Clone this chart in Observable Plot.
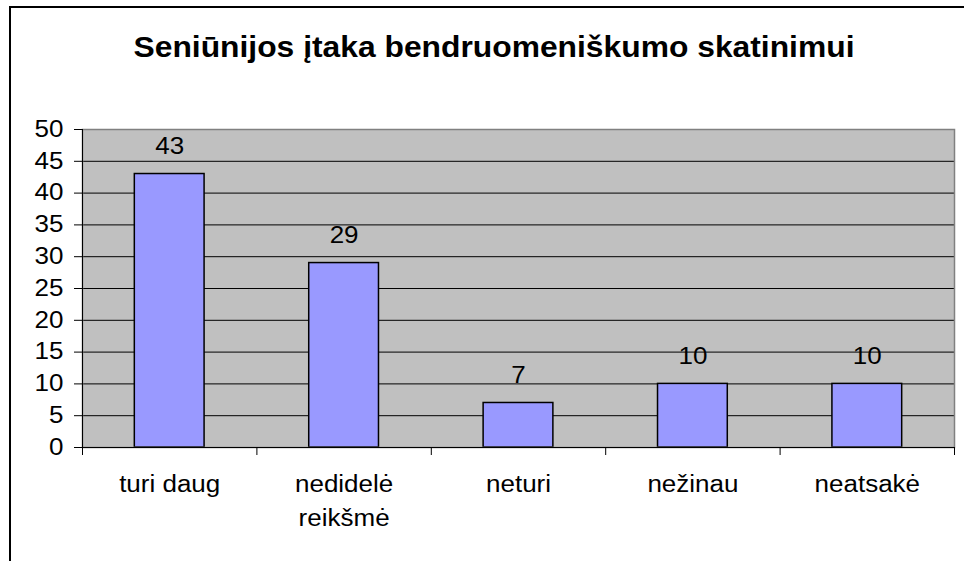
<!DOCTYPE html>
<html>
<head>
<meta charset="utf-8">
<script src="https://cdn.jsdelivr.net/npm/d3@7"></script>
<script src="https://cdn.jsdelivr.net/npm/@observablehq/plot@0.6"></script>
<style>
  html, body { margin: 0; padding: 0; width: 964px; height: 561px; overflow: hidden; background: #fff; }
  body { position: relative; font-family: "Liberation Sans", Arial, sans-serif; }
  #frame { position: absolute; left: 9px; top: 6px; width: 1200px; height: 800px;
           border-left: 2px solid #000; border-top: 2px solid #000; }
  #title { position: absolute; left: 0; top: 32px; width: 988px; text-align: center;
           font-weight: bold; font-size: 30px; line-height: 30px; color: #000; white-space: nowrap;
           transform: scaleX(1.06); transform-origin: 494px 50%; }
  #chart { position: absolute; left: 0; top: 80px; }
</style>
</head>
<body>
<div id="frame"></div>
<div id="title">Seniūnijos įtaka bendruomeniškumo skatinimui</div>
<div id="chart"></div>
<script>
const categories = ["turi daug", "nedidelė reikšmė", "neturi", "nežinau", "neatsakė"];
const values = [43, 29, 7, 10, 10];
const yTicks = [0, 5, 10, 15, 20, 25, 30, 35, 40, 45, 50];

const data = categories.map((c, i) => ({category: c, value: values[i], i}));
const boundaries = d3.range(0, categories.length + 1);

const fontSize = 23;
const stretch = 1.13;

const plot = Plot.plot({
  width: 964,
  height: 481,
  marginLeft: 82,
  marginRight: 10,
  marginTop: 49,
  marginBottom: 114,
  style: {fontFamily: '"Liberation Sans", Arial, sans-serif', color: "#000", background: "transparent", overflow: "visible"},
  x: {type: "linear", domain: [0, categories.length], axis: null},
  y: {domain: [0, 50], axis: null},
  marks: [
    Plot.frame({fill: "#C0C0C0", stroke: null}),
    Plot.ruleY(yTicks.filter(t => t > 0 && t < 50), {stroke: "#000", strokeWidth: 1}),
    Plot.rectY(data, {x1: d => d.i + 0.3, x2: d => d.i + 0.7, y1: 0, y2: "value", fill: "#9999FF", stroke: "#000", strokeWidth: 1.5}),
    Plot.frame({stroke: "#808080", strokeWidth: 1.5}),
    Plot.ruleX([0], {stroke: "#000", strokeWidth: 1}),
    Plot.ruleY([0], {stroke: "#000", strokeWidth: 1}),
    Plot.axisY({ticks: yTicks, label: null, tickSize: 8, tickPadding: 11, fontSize, tickFormat: d => String(d), stroke: "#000"}),
    Plot.axisX({ticks: boundaries, label: null, tickSize: 8, tickFormat: () => "", stroke: "#000"}),
    Plot.text(data, {x: d => d.i + 0.5, text: "category", frameAnchor: "bottom", lineAnchor: "top", lineWidth: 5, lineHeight: 1.45, dy: 21, fontSize, fill: "#000"}),
    Plot.text(data, {x: d => d.i + 0.5, y: "value", text: d => String(d.value), lineAnchor: "bottom", dy: -20, fontSize, fill: "#000"})
  ]
});
document.getElementById("chart").appendChild(plot);

// widen glyphs horizontally to match the reference's wide lettering
plot.querySelectorAll("text").forEach(t => {
  const parts = t.querySelectorAll("tspan");
  const items = parts.length ? Array.from(parts) : [t];
  items.forEach(el => {
    const len = el.getComputedTextLength();
    if (len > 0) {
      el.setAttribute("textLength", (len * stretch).toFixed(2));
      el.setAttribute("lengthAdjust", "spacingAndGlyphs");
    }
  });
});
</script>
</body>
</html>
